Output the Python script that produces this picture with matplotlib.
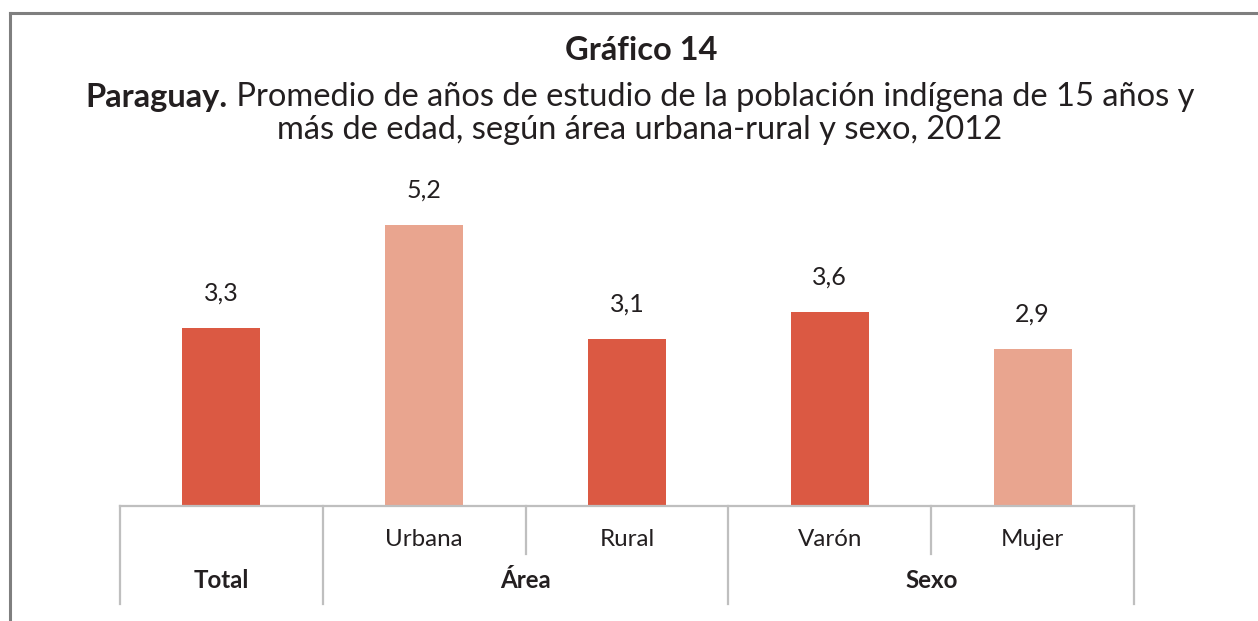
import matplotlib
matplotlib.use('Agg')
import matplotlib.pyplot as plt
from matplotlib.lines import Line2D
from matplotlib import transforms

plt.rcParams['font.family'] = ['Lato', 'DejaVu Sans']

# data
categories = ['Total', 'Urbana', 'Rural', 'Varón', 'Mujer']
values = [3.3, 5.2, 3.1, 3.6, 2.9]
labels = ['3,3', '5,2', '3,1', '3,6', '2,9']
groups = [('Total', 0, 0), ('Área', 1, 2), ('Sexo', 3, 4)]

dark = '#DB5943'
light = '#E9A58F'
colors = [dark, light, dark, dark, light]
txt = '#231F20'
grid = '#BFBFBF'

W, H = 1258, 621
fig = plt.figure(figsize=(W / 100, H / 100), dpi=100, facecolor='white')

# frame of the figure (top and left only)
fig.add_artist(Line2D([10 / W, 1], [1 - 13 / H, 1 - 13 / H], color='#7F7F7F', lw=2.2))
fig.add_artist(Line2D([10 / W, 10 / W], [0, 1 - 13 / H], color='#7F7F7F', lw=2.2))

# titles
fs_title = 23.5
fig.text(641 / W, 1 - 50 / H, 'Gráfico 14', ha='center', va='center',
         fontsize=fs_title, fontweight='bold', color=txt)

r = fig.canvas.get_renderer()
t1 = fig.text(0, 1 - 97 / H, 'Paraguay.', ha='left', va='center',
              fontsize=fs_title, fontweight='bold', color=txt)
t2 = fig.text(0, 1 - 97 / H, ' Promedio de años de estudio de la población indígena de 15 años y',
              ha='left', va='center', fontsize=fs_title, color=txt)
w1 = t1.get_window_extent(r).width
w2 = t2.get_window_extent(r).width
x0 = 640 - (w1 + w2) / 2
t1.set_x(x0 / W)
t2.set_x((x0 + w1) / W)
fig.text(640 / W, 1 - 130 / H, 'más de edad, según área urbana-rural y sexo, 2012',
         ha='center', va='center', fontsize=fs_title, color=txt)

# axes
left, right, base, top = 120, 1134, 506, 182
ax = fig.add_axes([left / W, 1 - base / H, (right - left) / W, (base - top) / H])
x = list(range(len(categories)))
ax.bar(x, values, width=0.385, color=colors, zorder=2)
for xi, v, lab in zip(x, values, labels):
    ax.annotate(lab, (xi, v), xytext=(0, 35), textcoords='offset pixels',
                ha='center', va='center', fontsize=18, color=txt)

ax.set_xlim(-0.5, len(categories) - 0.5)
ax.set_ylim(0, 6)
ax.set_axis_off()

# multi-level category axis
ah = base - top
tr = transforms.blended_transform_factory(ax.transData, ax.transAxes)
ax.plot([-0.5, len(categories) - 0.5], [0, 0], color=grid, lw=1.6, transform=tr, clip_on=False)
for b in [-0.5, 0.5, 2.5, 4.5]:
    ax.plot([b, b], [0, -98 / ah], color=grid, lw=1.6, transform=tr, clip_on=False)
for b in [1.5, 3.5]:
    ax.plot([b, b], [0, -48 / ah], color=grid, lw=1.6, transform=tr, clip_on=False)

for xi, c in zip(x, categories):
    if c == 'Total':
        continue
    ax.text(xi, -34 / ah, c, transform=tr, ha='center', va='center', fontsize=17.4, color=txt)
for name, a, b in groups:
    ax.text((a + b) / 2, -74 / ah, name, transform=tr, ha='center', va='center',
            fontsize=17.4, fontweight='bold', color=txt)

fig.savefig('out.png', dpi=100, facecolor='white')
